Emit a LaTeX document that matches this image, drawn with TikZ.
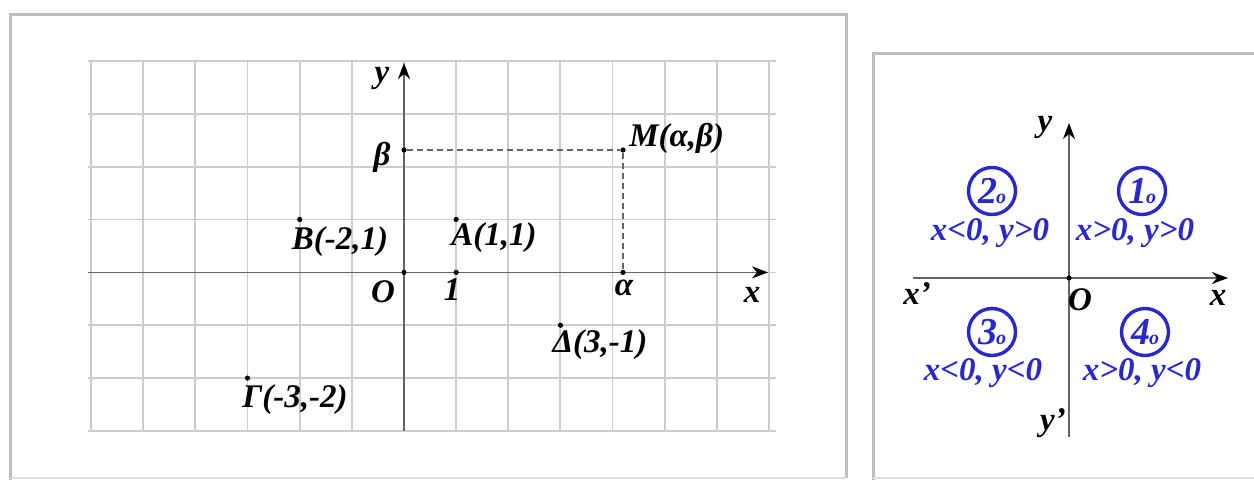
\documentclass[tikz,border=0pt]{standalone}
\usepackage{fontspec}
\setmainfont{Liberation Serif}[BoldItalicFont={Liberation Serif Bold Italic}]
\usetikzlibrary{arrows.meta}
\definecolor{gridgray}{RGB}{205,205,205}
\definecolor{axisgray}{RGB}{100,100,100}
\definecolor{framegray}{RGB}{190,190,190}
\definecolor{qblue}{RGB}{40,40,205}
\begin{document}
\begin{tikzpicture}[x=0.5pt,y=-0.5pt,
  gridline/.style={draw=gridgray,line width=0.9pt},
  axisline/.style={draw=axisgray,line width=0.8pt},
  arrowtip/.style={-{Stealth[length=8pt,width=6pt,inset=2.5pt,black]}},
  frameline/.style={draw=framegray,line width=1.5pt},
  dot/.style={circle,fill=black,inner sep=0pt,minimum size=2.6pt},
  dashline/.style={draw=axisgray,line width=0.6pt,dash pattern=on 3pt off 2pt},
  lbl/.style={font=\fontsize{16.5}{18}\selectfont\bfseries\itshape,inner sep=0pt},
  qtext/.style={font=\fontsize{16.5}{18}\selectfont\bfseries\itshape,text=qblue,inner sep=0pt},
  qcircle/.style={circle,draw=qblue,line width=1.7pt,minimum size=23.5pt,inner sep=0pt,text=qblue,
    font=\fontsize{19}{20}\selectfont\bfseries\itshape}
]
\useasboundingbox (0,0) rectangle (1254,480);
\fill[white] (0,0) rectangle (1254,480);
% frames
\draw[frameline] (846,478) -- (846,15) -- (10,15) -- (10,480);
\draw[draw=framegray!50,line width=0.8pt] (10,478) -- (846,478);
\draw[frameline] (1254,54) -- (873,54) -- (873,480);
\draw[draw=framegray!50,line width=0.8pt] (873,478) -- (1254,478);
% grid
\foreach \i in {0,...,13} \draw[gridline] ({91+52.15*\i},61) -- ({91+52.15*\i},431);
\foreach \j in {0,...,7} \draw[gridline] (88,{61+52.86*\j}) -- (776,{61+52.86*\j});
% axes left
\coordinate (xL) at (88,272.4);
\coordinate (xR) at (768,272.4);
\coordinate (yB) at (404,431);
\coordinate (yT) at (404,63);
\draw[axisline,arrowtip] (xL) -- (xR);
\draw[axisline,arrowtip] (yB) -- (yT);
% points
\node[dot] (O) at (404,272.4) {};
\node[dot] (I) at (456.15,272.4) {};
\node[dot] (adot) at (623,272.4) {};
\node[dot] (bdot) at (404,150) {};
\node[dot] (M) at (623,150) {};
\node[dot] (A) at (456.15,219.5) {};
\node[dot] (B) at (299.7,219.5) {};
\node[dot] (G) at (247.5,378.1) {};
\node[dot] (D) at (560.5,325.3) {};
\draw[dashline] (bdot) -- (M) -- (adot);
% labels left
\node[lbl] (ly) at (382,78) {y};
\node[lbl] (lb) at (382,157) {β};
\node[lbl,anchor=west] (lM) at (629,138) {M(α,β)};
\node[lbl] (lB) at (340,242) {B(-2,1)};
\node[lbl] (lA) at (494,238) {A(1,1)};
\node[lbl] (lO) at (383,292) {O};
\node[lbl] (lI) at (452,290) {1};
\node[lbl] (la) at (624,288) {α};
\node[lbl] (lx) at (752,295) {x};
\node[lbl] (lD) at (600,345) {Δ(3,-1)};
\node[lbl] (lG) at (295,400) {Γ(-3,-2)};
% right panel axes
\coordinate (rxL) at (913,278);
\coordinate (rxR) at (1228,278);
\coordinate (ryB) at (1069,437);
\coordinate (ryT) at (1069,123);
\draw[axisline,arrowtip] (rxL) -- (rxR);
\draw[axisline,arrowtip] (ryB) -- (ryT);
\node[dot] (rO) at (1069,278) {};
\node[lbl] (rly) at (1045,127) {y};
\node[lbl] (rlxp) at (917,294) {x'};
\node[lbl] (rlO) at (1080,300) {O};
\node[lbl] (rlx) at (1218,298) {x};
\node[lbl] (rlyp) at (1053,423) {y'};
% quadrants
\node[qcircle] (q2) at (992,191) {2\kern-0.5pt{\fontsize{10}{10}\selectfont o}};
\node[qcircle] (q1) at (1142,191) {1\kern-0.5pt{\fontsize{10}{10}\selectfont o}};
\node[qcircle] (q3) at (992,332) {3\kern-0.5pt{\fontsize{10}{10}\selectfont o}};
\node[qcircle] (q4) at (1145,332) {4\kern-0.5pt{\fontsize{10}{10}\selectfont o}};
\node[qtext] (t2) at (990,233) {x<0, y>0};
\node[qtext] (t1) at (1135,233) {x>0, y>0};
\node[qtext] (t3) at (983,373) {x<0, y<0};
\node[qtext] (t4) at (1142,373) {x>0, y<0};
\end{tikzpicture}
\end{document}
